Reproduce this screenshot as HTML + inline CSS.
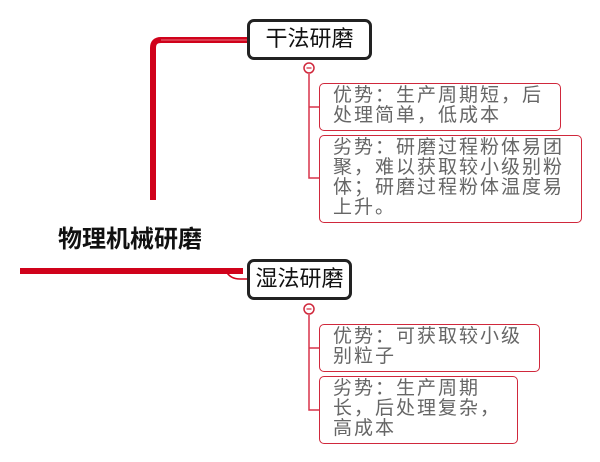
<!DOCTYPE html>
<html><head><meta charset="utf-8"><style>
body{margin:0;width:600px;height:462px;background:#fff;position:relative;overflow:hidden;font-family:"Liberation Sans","Noto Sans CJK SC",sans-serif}
.a{position:absolute}
.main{border:3px solid #222;border-radius:7px;background:#fff;font-size:22px;color:#111;text-align:center;box-sizing:border-box;line-height:34px}
.leaf{border:1.5px solid #d0283c;border-radius:5px;background:#fff;box-sizing:border-box;color:#666;font-size:19px;letter-spacing:2px;line-height:20px;padding:2px 0 0 13px}
</style></head><body>
<svg class="a" style="left:0;top:0" width="600" height="462">
<path d="M153,200 V48 Q153,40 161,40 H247" fill="none" stroke="#d0021b" stroke-width="6"/>
<path d="M161,40 H247" stroke="#e05060" stroke-width="1.5"/>
<line x1="20" y1="271" x2="243" y2="271" stroke="#d0021b" stroke-width="6"/>
<path d="M226,271 Q230,279 240,279 H247" fill="none" stroke="#d0021b" stroke-width="1.5"/>
<path d="M309,74 V178 H319 M309,107 H319" fill="none" stroke="#d8334a" stroke-width="1.5"/>
<path d="M309,315 V410 H319 M309,348 H319" fill="none" stroke="#d8334a" stroke-width="1.5"/>
<circle cx="309" cy="68" r="5" fill="#fff" stroke="#d0283c" stroke-width="1.5"/>
<line x1="306.5" y1="68" x2="311.5" y2="68" stroke="#d0283c" stroke-width="1.2"/>
<circle cx="309" cy="309" r="5" fill="#fff" stroke="#d0283c" stroke-width="1.5"/>
<line x1="306.5" y1="309" x2="311.5" y2="309" stroke="#d0283c" stroke-width="1.2"/>
</svg>
<div class="a" style="left:58px;top:219px;font-size:24px;font-weight:bold;color:#111">物理机械研磨</div>
<div class="a main" style="left:247px;top:19px;width:125px;height:41px">干法研磨</div>
<div class="a main" style="left:247px;top:259px;width:105px;height:41px">湿法研磨</div>
<div class="a leaf" style="left:319px;top:83px;width:242px;height:48px">优势：生产周期短，后<br>处理简单，低成本</div>
<div class="a leaf" style="left:319px;top:135px;width:263px;height:88px">劣势：研磨过程粉体易团<br>聚，难以获取较小级别粉<br>体；研磨过程粉体温度易<br>上升。</div>
<div class="a leaf" style="left:319px;top:324px;width:221px;height:48px">优势：可获取较小级<br>别粒子</div>
<div class="a leaf" style="left:319px;top:376px;width:199px;height:68px">劣势：生产周期<br>长，后处理复杂，<br>高成本</div>
</body></html>
